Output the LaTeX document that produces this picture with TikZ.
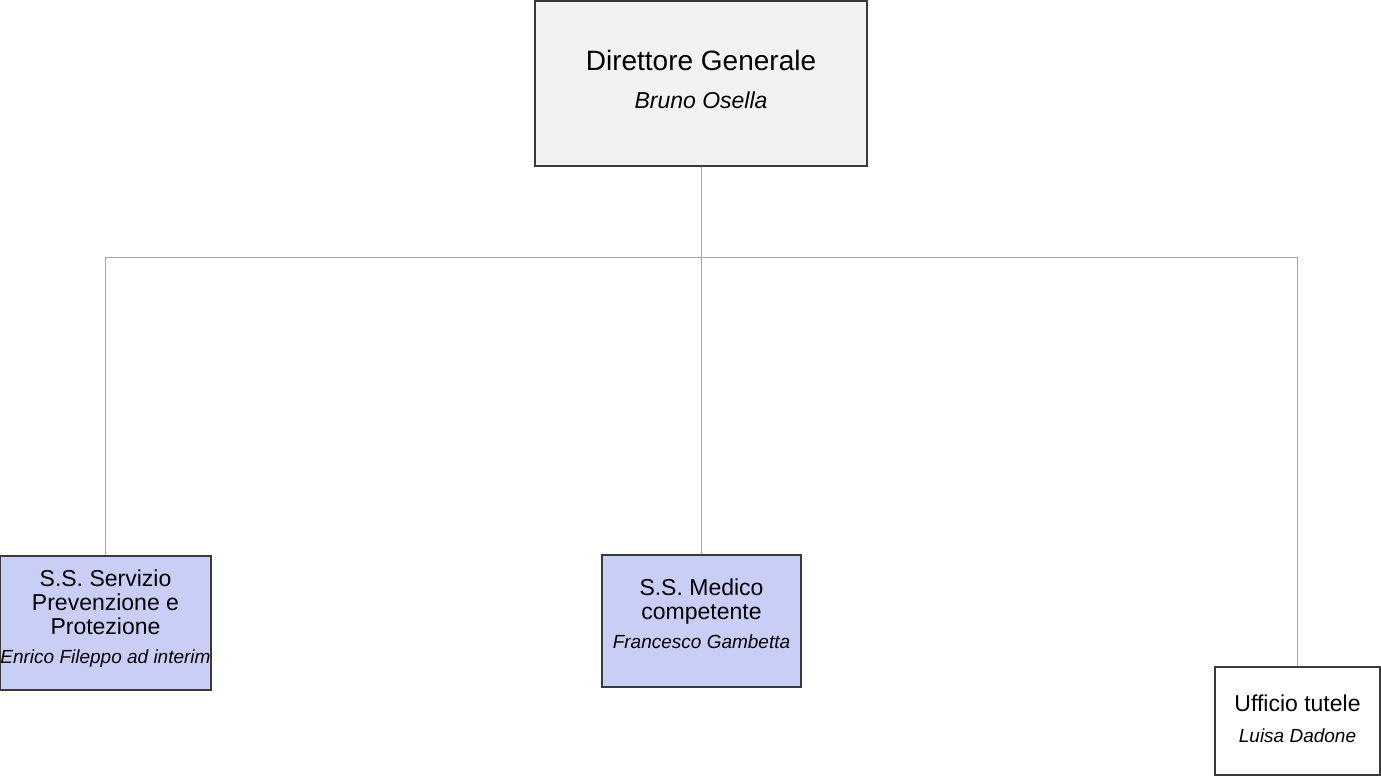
\documentclass[tikz,border=0pt]{standalone}
\usepackage{fontspec}
\setmainfont{Liberation Sans}
\definecolor{boxline}{HTML}{3A3A3A}
\definecolor{connline}{HTML}{A6A6A6}
\definecolor{topfill}{HTML}{F2F2F2}
\definecolor{bluefill}{HTML}{C9CEF6}
\begin{document}
\begin{tikzpicture}[x=1pt,y=-1pt,
  orgbox/.style={draw=boxline, line width=1.3pt, inner sep=0pt, align=center},
  bigfont/.style={font=\fontsize{28}{37.6}\selectfont},
  smallfont/.style={font=\fontsize{23}{24}\selectfont},
  conn/.style={draw=connline, line width=1pt}]
\useasboundingbox (0,0) rectangle (1381,776);
\fill[white] (0,0) rectangle (1381,776);
\node[orgbox, fill=topfill, bigfont, minimum width=332pt, minimum height=165pt, text depth=8.4pt] (dg) at (701,83.5)
  {Direttore Generale\\{\fontsize{23}{23}\selectfont\itshape Bruno Osella}};
\node[orgbox, fill=bluefill, smallfont, minimum width=211pt, minimum height=134pt, text depth=12.4pt] (ssp) at (105.5,623)
  {S.S. Servizio\\Prevenzione e\\Protezione\\[4.3pt]{\fontsize{19}{19}\selectfont\itshape Enrico Fileppo ad interim}};
\node[orgbox, fill=bluefill, smallfont, minimum width=199pt, minimum height=132pt, text depth=13.7pt] (med) at (701.5,621)
  {S.S. Medico\\competente\\[5pt]{\fontsize{19}{19}\selectfont\itshape Francesco Gambetta}};
\node[orgbox, fill=white, smallfont, minimum width=165pt, minimum height=108pt, text depth=3.8pt] (uff) at (1297.5,721)
  {Ufficio tutele\\[7pt]{\fontsize{19}{19}\selectfont\itshape Luisa Dadone}};
\coordinate (bus) at (701,257.5);
\draw[conn] (dg.south) -- (dg.south |- bus);
\draw[conn] (ssp.north) |- (uff.north |- bus) -- (uff.north);
\draw[conn] (med.north) -- (med.north |- bus);
\end{tikzpicture}
\end{document}
